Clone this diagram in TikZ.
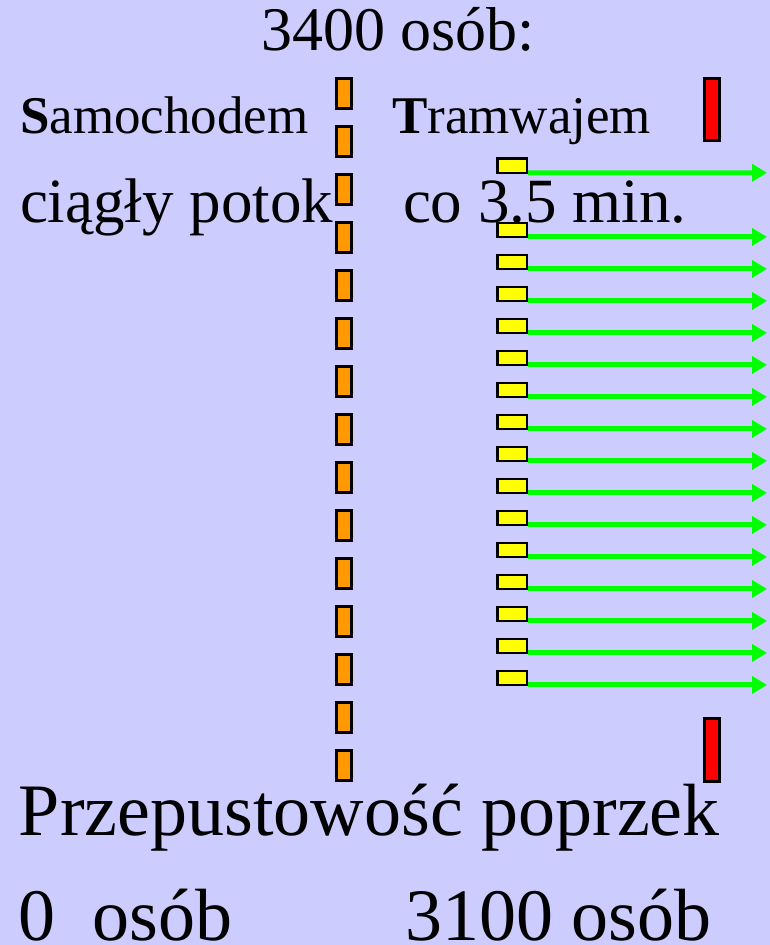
\documentclass[tikz,border=0pt]{standalone}
\usepackage{fontspec}
\setmainfont{Liberation Serif}
\usetikzlibrary{arrows.meta}

\definecolor{slidebg}{RGB}{204,204,255}
\definecolor{carbox}{RGB}{255,153,0}
\definecolor{trambox}{RGB}{255,255,0}
\definecolor{stopbox}{RGB}{255,0,0}
\definecolor{flowline}{RGB}{0,255,0}

\tikzset{
  label/.style={anchor=base west, inner sep=0pt, outer sep=0pt, text=black},
  car/.style={draw=black, line width=3pt, fill=carbox, minimum width=15pt, minimum height=30pt, inner sep=0pt, outer sep=0pt},
  tram/.style={draw=black, line width=2.5pt, fill=trambox, minimum width=29.5pt, minimum height=14.2pt, inner sep=0pt, outer sep=0pt},
  stopbar/.style={draw=black, line width=3pt, fill=stopbox, minimum width=14.5pt, minimum height=62.5pt, inner sep=0pt, outer sep=0pt},
  flow/.style={draw=flowline, line width=5pt, shorten <=1.25pt, -{Triangle[length=15pt, width=17pt]}}
}

\begin{document}
\begin{tikzpicture}[x=1pt, y=-1pt]
  % slide background
  \fill[slidebg] (0,0) rectangle (770,945);
  \useasboundingbox (0,0) rectangle (770,945);

  % headings
  \node[anchor=base, inner sep=0pt] (title) at (398,50) {\fontsize{62}{74}\selectfont 3400 osób:};
  \node[label] (car) at (20,133) {\fontsize{53}{64}\selectfont\textbf{S}amochodem};
  \node[label] (tramh) at (392,133) {\fontsize{53}{64}\selectfont\textbf{T}ramwajem};
  \node[label] (carflow) at (20,222) {\fontsize{63}{76}\selectfont ciągły potok};
  \node[label] (tramflow) at (403,222) {\fontsize{63}{76}\selectfont co 3.5 min.};

  % column of cars
  \foreach \k in {0,...,14} {
    \node[car] (c\k) at (344,{93.5+48*\k}) {};
  }

  % trams leaving, each with its flow to the right
  \node[tram] (t0) at (512,165.7) {};
  \coordinate (tip0) at (767,172.8);
  \draw[flow] (t0.south east) -- (tip0);
  \foreach \k in {1,...,15} {
    \node[tram] (t\k) at (512,{229.85+32*(\k-1)}) {};
    \coordinate (tip\k) at (767,{236.95+32*(\k-1)});
    \draw[flow] (t\k.south east) -- (tip\k);
  }

  % stop markers
  \node[stopbar] (stoptop) at (712,109.5) {};
  \node[stopbar] (stopbot) at (712,750) {};

  % capacity summary
  \node[label] (cap) at (19,835) {\fontsize{74}{88}\selectfont Przepustowość poprzek};
  \node[label] (zero) at (19,940) {\fontsize{74}{88}\selectfont 0\ \ osób};
  \node[label] (tramcap) at (405,940) {\fontsize{74}{88}\selectfont 3100 osób};
\end{tikzpicture}
\end{document}
